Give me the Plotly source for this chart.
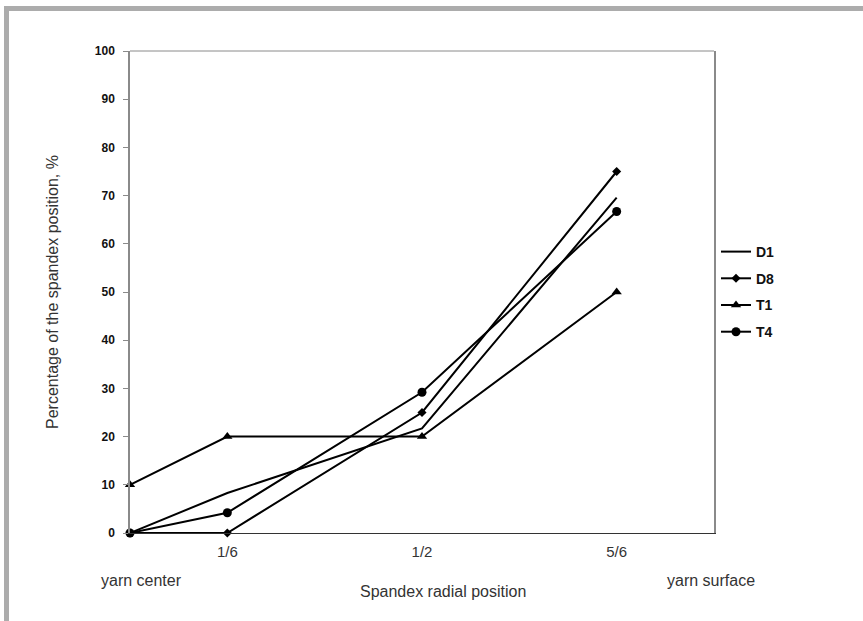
import plotly.graph_objects as go

positions = [0, 1/6, 1/2, 5/6]
d1 = [0, 8.3, 21.7, 69.6]
d8 = [0, 0, 25, 75]
t1 = [10, 20, 20, 50]
t4 = [0, 4.2, 29.2, 66.7]

tick_vals = [1/6, 1/2, 5/6]
tick_text = ["1/6", "1/2", "5/6"]
y_ticks = list(range(0, 101, 10))

series = [
    ("D1", d1, None),
    ("D8", d8, dict(symbol="diamond", size=7, color="black")),
    ("T1", t1, dict(symbol="triangle-up", size=9, color="black")),
    ("T4", t4, dict(symbol="circle", size=9, color="black")),
]

fig = go.Figure()
for name, vals, marker in series:
    mode = "lines" if marker is None else "lines+markers"
    fig.add_trace(go.Scatter(
        x=positions, y=vals, name=name, mode=mode, legendgroup=name,
        line=dict(color="black", width=2),
        marker=marker,
        cliponaxis=False,
    ))

W, H = 863, 621
L, R, T, B = 130, 714, 51, 533
pw, ph = R - L, B - T

def px(x):
    return (x - L) / pw

def py(y):
    return (B - y) / ph

fig.update_layout(
    width=W, height=H,
    margin=dict(l=L, r=W - R, t=T, b=H - B),
    paper_bgcolor="white", plot_bgcolor="white",
    font=dict(family="Liberation Sans, Arial", color="#222"),
    showlegend=True,
    legend=dict(
        x=px(716), y=py(236), xanchor="left", yanchor="top",
        font=dict(size=14, family="Liberation Sans, Arial", color="#111", weight="bold"),
        bgcolor="rgba(0,0,0,0)", itemwidth=30, tracegroupgap=5.5,
    ),
    xaxis=dict(
        range=[0, 1], tickvals=tick_vals, ticktext=tick_text,
        showgrid=False, zeroline=False, showline=True, linecolor="#333", linewidth=1,
        ticks="", tickfont=dict(size=15, color="#333"), ticklabelstandoff=5,
    ),
    yaxis=dict(
        range=[0, 100], tickvals=y_ticks, showgrid=False, zeroline=False,
        showline=True, linecolor="#8a8a8a", linewidth=1.5, mirror=True,
        ticks="outside", ticklen=5, tickcolor="#8a8a8a",
        tickfont=dict(size=12, color="#111", weight="bold"), ticklabelstandoff=6,
    ),
    shapes=[
        dict(type="line", xref="paper", yref="paper", x0=0, x1=1, y0=1, y1=1,
             line=dict(color="#8a8a8a", width=1)),
        dict(type="rect", xref="paper", yref="paper", x0=px(4), x1=px(W + 5),
             y0=py(11), y1=py(6), fillcolor="#acacac", line=dict(width=0), layer="above"),
        dict(type="rect", xref="paper", yref="paper", x0=px(4), x1=px(9),
             y0=py(H + 5), y1=py(6), fillcolor="#acacac", line=dict(width=0), layer="above"),
    ],
    annotations=[
        dict(text="Percentage of the spandex position, %", xref="paper", yref="paper",
             x=px(52), y=py(292), xanchor="center", yanchor="middle", textangle=-90,
             showarrow=False, font=dict(size=16, color="#333")),
        dict(text="yarn center", xref="paper", yref="paper", x=px(99), y=py(580),
             xanchor="left", yanchor="middle", showarrow=False, font=dict(size=16, color="#333")),
        dict(text="yarn surface", xref="paper", yref="paper", x=px(757), y=py(580),
             xanchor="right", yanchor="middle", showarrow=False, font=dict(size=16, color="#333")),
        dict(text="Spandex radial position", xref="paper", yref="paper", x=px(443), y=py(591),
             xanchor="center", yanchor="middle", showarrow=False, font=dict(size=16, color="#333")),
    ],
)

fig.write_html("out.html")
